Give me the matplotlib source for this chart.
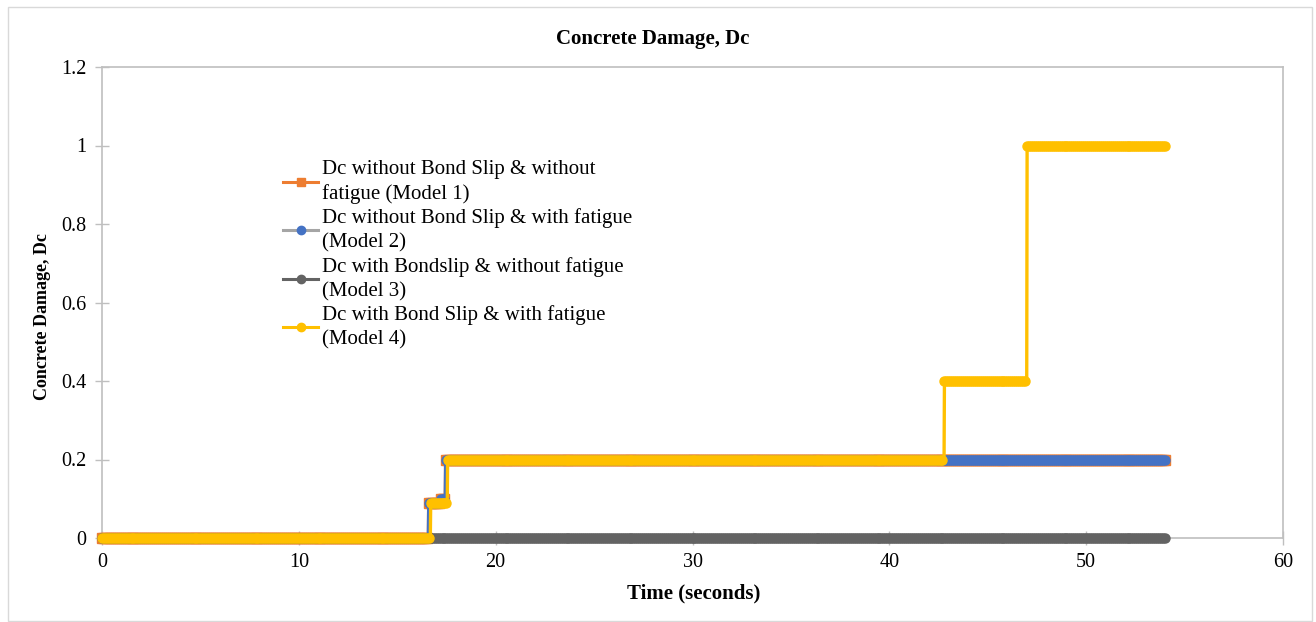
import numpy as np
import matplotlib
matplotlib.use("Agg")
import matplotlib.pyplot as plt
from matplotlib.patches import Rectangle
from matplotlib.lines import Line2D

# ---- data ----
sample_step = 0.02         # output sampling of the analysis (s)
t_end = 54.0

m1_change_times = [0.0, 16.6, 17.2, 17.45]
m1_levels       = [0.0, 0.09, 0.10, 0.20]
m2_change_times = [0.0, 16.6, 17.2, 17.45]
m2_levels       = [0.0, 0.09, 0.10, 0.20]
m3_change_times = [0.0]
m3_levels       = [0.0]
m4_change_times = [0.0, 16.7, 17.55, 42.8, 47.0]
m4_levels       = [0.0, 0.09, 0.20, 0.40, 1.00]

labels = ["Dc without Bond Slip & without\nfatigue (Model 1)",
          "Dc without Bond Slip & with fatigue\n(Model 2)",
          "Dc with Bondslip & without fatigue\n(Model 3)",
          "Dc with Bond Slip & with fatigue\n(Model 4)"]

title = "Concrete Damage, Dc"
xlabel = "Time (seconds)"
ylabel = "Concrete Damage, Dc"
xticks = [0, 10, 20, 30, 40, 50, 60]
yticks = [0, 0.2, 0.4, 0.6, 0.8, 1.0, 1.2]
ytick_labels = ["0", "0.2", "0.4", "0.6", "0.8", "1", "1.2"]

time = np.round(np.arange(0.0, t_end + sample_step / 2, sample_step), 2)

def step_series(change_times, levels):
    idx = np.searchsorted(np.array(change_times), time, side="right") - 1
    return np.array(levels)[idx]

series = [step_series(m1_change_times, m1_levels),
          step_series(m2_change_times, m2_levels),
          step_series(m3_change_times, m3_levels),
          step_series(m4_change_times, m4_levels)]

legend_line_colors = ["#ED7D31", "#A5A5A5", "#636363", "#FFC000"]
data_colors = ["#ED7D31", "#4472C4", "#636363", "#FFC000"]
markers = ["s", "o", "o", "o"]

plt.rcParams['font.family'] = ['Liberation Serif', 'DejaVu Serif']

fig = plt.figure(figsize=(13.16, 6.22), dpi=100)
W, H = 1316, 622
ax = fig.add_axes([102 / W, (H - 538) / H, (1283 - 102) / W, (538 - 67) / H])

# outer chart border
fig.patches.append(Rectangle((8 / W, 1 / H), (1312 - 8) / W, (615 - 1) / H,
                             transform=fig.transFigure, fill=False,
                             edgecolor="#D9D9D9", linewidth=1.0))

for y, c, mk in zip(series, data_colors, markers):
    ax.plot(time, y, color=c, linewidth=2.4, marker=mk, markersize=6.5,
            markevery=5, markerfacecolor=c, markeredgecolor=c,
            solid_capstyle="round", clip_on=False, zorder=3)

ax.set_xlim(0, 60)
ax.set_ylim(0, 1.2)
ax.set_xticks(xticks)
ax.set_yticks(yticks)
ax.set_yticklabels(ytick_labels)
ax.tick_params(axis="both", direction="inout", length=10, width=1,
               color="#BFBFBF", labelsize=14.5, pad=6)
for s in ax.spines.values():
    s.set_color("#BFBFBF")
    s.set_linewidth(1.2)

fig.text(653 / W, (H - 39) / H, title, fontsize=15, fontweight="bold",
         ha="center", va="center")
fig.text(694 / W, (H - 593) / H, xlabel, fontsize=15, fontweight="bold",
         ha="center", va="center")
fig.text(43 / W, (H - 317) / H, ylabel, fontsize=13, fontweight="bold",
         ha="center", va="center", rotation=90)

# legend proxies (model 2 legend line gray with blue marker)
proxies = [Line2D([], [], color=lc, linewidth=2.2, marker=mk, markersize=6,
                  markerfacecolor=mc, markeredgecolor=mc)
           for lc, mc, mk in zip(legend_line_colors, data_colors, markers)]
leg = ax.legend(proxies, labels, loc="upper left",
                bbox_to_anchor=(283 / W, (H - 160) / H), bbox_transform=fig.transFigure,
                frameon=False, fontsize=15, handlelength=1.7, handletextpad=0.15,
                labelspacing=0.2, borderpad=0.0, borderaxespad=0.0)
for t in leg.get_texts():
    t.set_linespacing(1.36)

fig.savefig("out.png", dpi=100)
